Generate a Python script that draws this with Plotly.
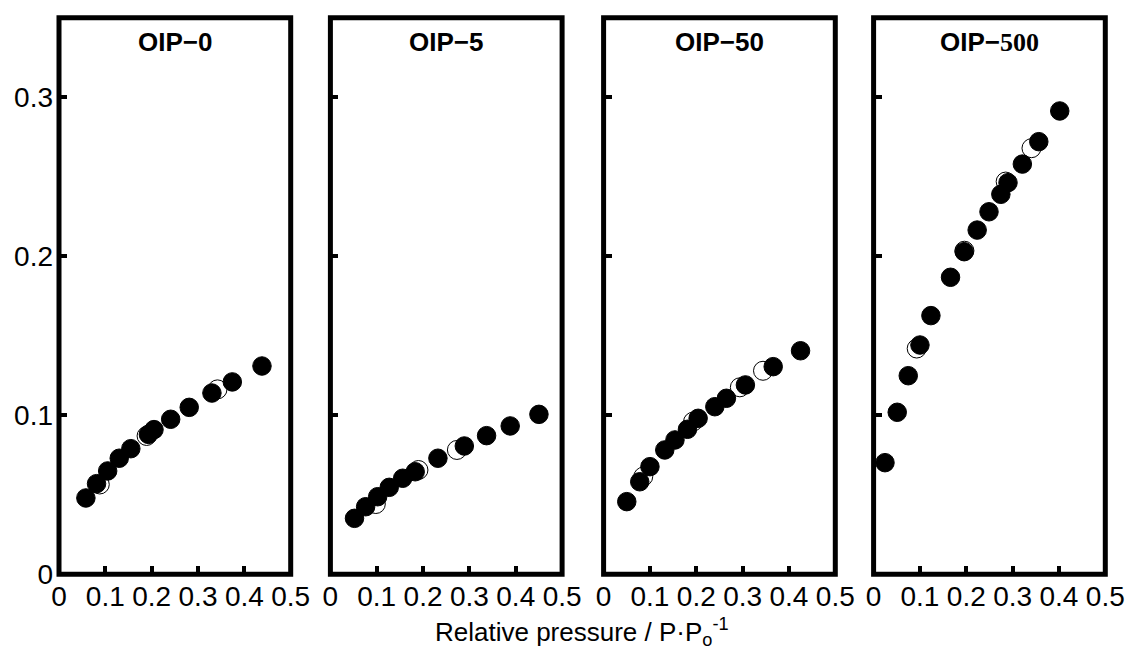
import plotly.graph_objects as go

# ---- data ----
titles = ["<b>OIP−0</b>", "<b>OIP−5</b>", "<b>OIP−50</b>",
          "<b>OIP−<span style='font-family:Liberation Serif'>500</span></b>"]

ads_x_0 = [0.058, 0.081, 0.105, 0.130, 0.155, 0.193, 0.205, 0.241, 0.281, 0.330, 0.374, 0.438]
ads_y_0 = [0.048, 0.057, 0.065, 0.073, 0.079, 0.088, 0.091, 0.0975, 0.105, 0.114, 0.121, 0.131]
des_x_0 = [0.088, 0.189, 0.342]
des_y_0 = [0.0565, 0.087, 0.1163]

ads_x_5 = [0.052, 0.076, 0.102, 0.127, 0.156, 0.183, 0.232, 0.289, 0.337, 0.388, 0.450]
ads_y_5 = [0.0352, 0.0425, 0.0488, 0.0547, 0.0604, 0.0645, 0.073, 0.0807, 0.0872, 0.0933, 0.1006]
des_x_5 = [0.098, 0.190, 0.273]
des_y_5 = [0.0442, 0.0656, 0.0782]

ads_x_50 = [0.050, 0.078, 0.100, 0.132, 0.154, 0.181, 0.204, 0.240, 0.265, 0.306, 0.366, 0.425]
ads_y_50 = [0.0457, 0.0582, 0.0677, 0.0782, 0.0845, 0.0912, 0.0981, 0.1054, 0.1107, 0.1191, 0.1306, 0.1406]
des_x_50 = [0.0855, 0.193, 0.294, 0.344]
des_y_50 = [0.0614, 0.096, 0.1176, 0.128]

ads_x_500 = [0.0246, 0.051, 0.0748, 0.100, 0.1237, 0.166, 0.1955, 0.2235, 0.249, 0.2746, 0.290, 0.321, 0.3565, 0.4017]
ads_y_500 = [0.0702, 0.1019, 0.1249, 0.1442, 0.1627, 0.1868, 0.2029, 0.2165, 0.228, 0.239, 0.2463, 0.258, 0.2721, 0.2914]
des_x_500 = [0.093, 0.196, 0.285, 0.3407]
des_y_500 = [0.142, 0.2035, 0.247, 0.268]

x_ticks = [0, 0.1, 0.2, 0.3, 0.4, 0.5]
x_tick_labels = ["0", "0.1", "0.2", "0.3", "0.4", "0.5"]
y_ticks = [0, 0.1, 0.2, 0.3]
y_tick_labels = ["0", "0.1", "0.2", "0.3"]
x_title = "Relative pressure / P·P<sub>o</sub><sup>-1</sup>"

series = [(ads_x_0, ads_y_0, des_x_0, des_y_0),
          (ads_x_5, ads_y_5, des_x_5, des_y_5),
          (ads_x_50, ads_y_50, des_x_50, des_y_50),
          (ads_x_500, ads_y_500, des_x_500, des_y_500)]

# ---- layout geometry ----
W, H = 1130, 649
left_px = [59.0, 330.4, 603.6, 873.6]
panel_w = 231.7
y_dom = [(H - 574.3) / H, (H - 17.8) / H]
FONT = "Liberation Sans, Arial, sans-serif"

fig = go.Figure()
layout = dict(
    template="none",
    width=W, height=H, margin=dict(l=0, r=0, t=0, b=0, pad=0, autoexpand=False),
    paper_bgcolor="white", plot_bgcolor="white", showlegend=False,
    font=dict(family=FONT, size=26, color="black"),
    shapes=[], annotations=[],
)

for i, (ax_, ay_, dx_, dy_) in enumerate(series):
    n = "" if i == 0 else str(i + 1)
    xa, ya = "x" + n, "y" + n
    fig.add_trace(go.Scatter(x=dx_, y=dy_, mode="markers", xaxis=xa, yaxis=ya,
                             marker=dict(size=19, color="white", line=dict(color="black", width=1))))
    fig.add_trace(go.Scatter(x=ax_, y=ay_, mode="markers", xaxis=xa, yaxis=ya,
                             marker=dict(size=18.5, color="black", line=dict(color="black", width=1))))
    d0 = left_px[i] / W
    d1 = (left_px[i] + panel_w) / W
    layout["xaxis" + n] = dict(domain=[d0, d1], range=[0, 0.5], anchor=ya, automargin=False,
                               tickmode="array", tickvals=x_ticks, ticktext=x_tick_labels,
                               ticks="inside", ticklen=8, tickwidth=4, tickcolor="black",
                               showgrid=False, zeroline=False, showline=False,
                               tickfont=dict(size=28, family=FONT, color="black"),
                               ticklabelstandoff=3)
    layout["yaxis" + n] = dict(domain=y_dom, range=[0, 0.35], anchor=xa, automargin=False,
                               tickmode="array", tickvals=y_ticks, ticktext=y_tick_labels,
                               ticks="inside", ticklen=8, tickwidth=4, tickcolor="black",
                               showgrid=False, zeroline=False, showline=False,
                               showticklabels=(i == 0),
                               tickfont=dict(size=28, family=FONT, color="black"),
                               ticklabelstandoff=5)
    layout["shapes"].append(dict(type="rect", xref=xa + " domain", yref=ya + " domain",
                                 x0=0, x1=1, y0=0, y1=1, line=dict(color="black", width=5),
                                 fillcolor="rgba(0,0,0,0)", layer="above"))
    layout["annotations"].append(dict(text=titles[i], xref="paper", yref="paper",
                                      x=(d0 + d1) / 2, y=(H - 42) / H, xanchor="center",
                                      yanchor="middle", showarrow=False,
                                      font=dict(size=26, family=FONT, color="black")))

layout["annotations"].append(dict(text=x_title, xref="paper", yref="paper",
                                  x=582 / W, y=(H - 632) / H, xanchor="center", yanchor="middle",
                                  showarrow=False, font=dict(size=26, family=FONT, color="black")))

fig.update_layout(**layout)
fig.write_html("out.html")
